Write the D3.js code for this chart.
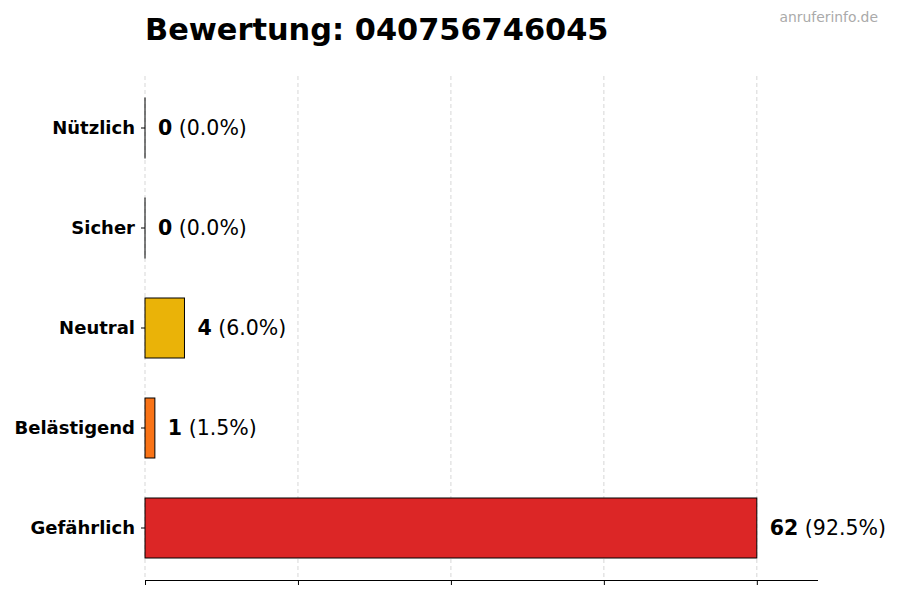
<!DOCTYPE html>
<meta charset="utf-8">
<style>
  body { margin: 0; background: #fff; }
  svg { font-family: "DejaVu Sans", sans-serif; }
</style>
<svg width="900" height="600"></svg>
<script src="https://d3js.org/d3.v7.min.js"></script>
<script>
const categories = ["Nützlich", "Sicher", "Neutral", "Belästigend", "Gefährlich"];
const counts = [0, 0, 4, 1, 62];
const percents = ["0.0%", "0.0%", "6.0%", "1.5%", "92.5%"];
const colors = ["#22c55e", "#3b82f6", "#eab308", "#f97316", "#dc2626"];
const title = "Bewertung: 040756746045";

const svg = d3.select("svg");
const margin = {top: 76, right: 82, bottom: 20, left: 145};
const width = 900, height = 600;

const maxVal = d3.max(counts);
const x = d3.scaleLinear()
    .domain([0, maxVal * 1.1])
    .range([margin.left, width - margin.right]);

const y = d3.scaleBand()
    .domain(categories)
    .range([78, 578])
    .paddingInner(0.4)
    .paddingOuter(0.2);

const tickVals = d3.range(5).map(i => maxVal * i / 4);

// grid
svg.append("g")
    .attr("stroke", "#b0b0b0")
    .attr("stroke-opacity", 0.5)
    .attr("stroke-dasharray", "4,3")
  .selectAll("line")
  .data(tickVals)
  .join("line")
    .attr("x1", d => x(d)).attr("x2", d => x(d))
    .attr("y1", margin.top).attr("y2", 580);

// bars
const data = categories.map((c, i) => ({cat: c, val: counts[i], pct: percents[i], color: colors[i]}));

svg.append("g")
  .selectAll("rect")
  .data(data)
  .join("rect")
    .attr("x", x(0))
    .attr("y", d => y(d.cat))
    // zero bars still show their edge, like the original
    .attr("width", d => Math.max(x(d.val) - x(0), 0.01))
    .attr("height", y.bandwidth())
    .attr("fill", d => d.color)
    .attr("stroke", "#000")
    .attr("stroke-width", 1);

// value labels
const lab = svg.append("g")
    .attr("font-size", 20.5)
  .selectAll("text")
  .data(data)
  .join("text")
    .attr("x", d => x(d.val) + 13)
    .attr("y", d => y(d.cat) + y.bandwidth() / 2)
    .attr("dy", "0.35em");
lab.append("tspan").attr("font-weight", "bold").text(d => d.val);
lab.append("tspan").text(d => ` (${d.pct})`);

// y axis
const yAxis = svg.append("g")
    .attr("transform", `translate(${margin.left},0)`)
    .call(d3.axisLeft(y).tickSize(4).tickPadding(6));
yAxis.select(".domain").remove();
yAxis.selectAll("text")
    .attr("font-family", "DejaVu Sans")
    .attr("font-size", 18)
    .attr("font-weight", "bold")
    .attr("fill", "#000");

// x axis
const xAxis = svg.append("g")
    .attr("transform", `translate(0,580)`)
    .call(d3.axisBottom(x).tickValues(tickVals).tickSize(5).tickFormat(""))
    .call(g => g.select(".domain").attr("d", `M${x(0)},0.5H${width - margin.right}`));

// title
svg.append("text")
    .attr("x", margin.left)
    .attr("y", 40)
    .attr("font-size", 30.4)
    .attr("font-weight", "bold")
    .text(title);

svg.append("text")
    .attr("x", 878)
    .attr("y", 22)
    .attr("text-anchor", "end")
    .attr("font-size", 13.9)
    .attr("fill", "#aaaaaa")
    .text("anruferinfo.de");
</script>
